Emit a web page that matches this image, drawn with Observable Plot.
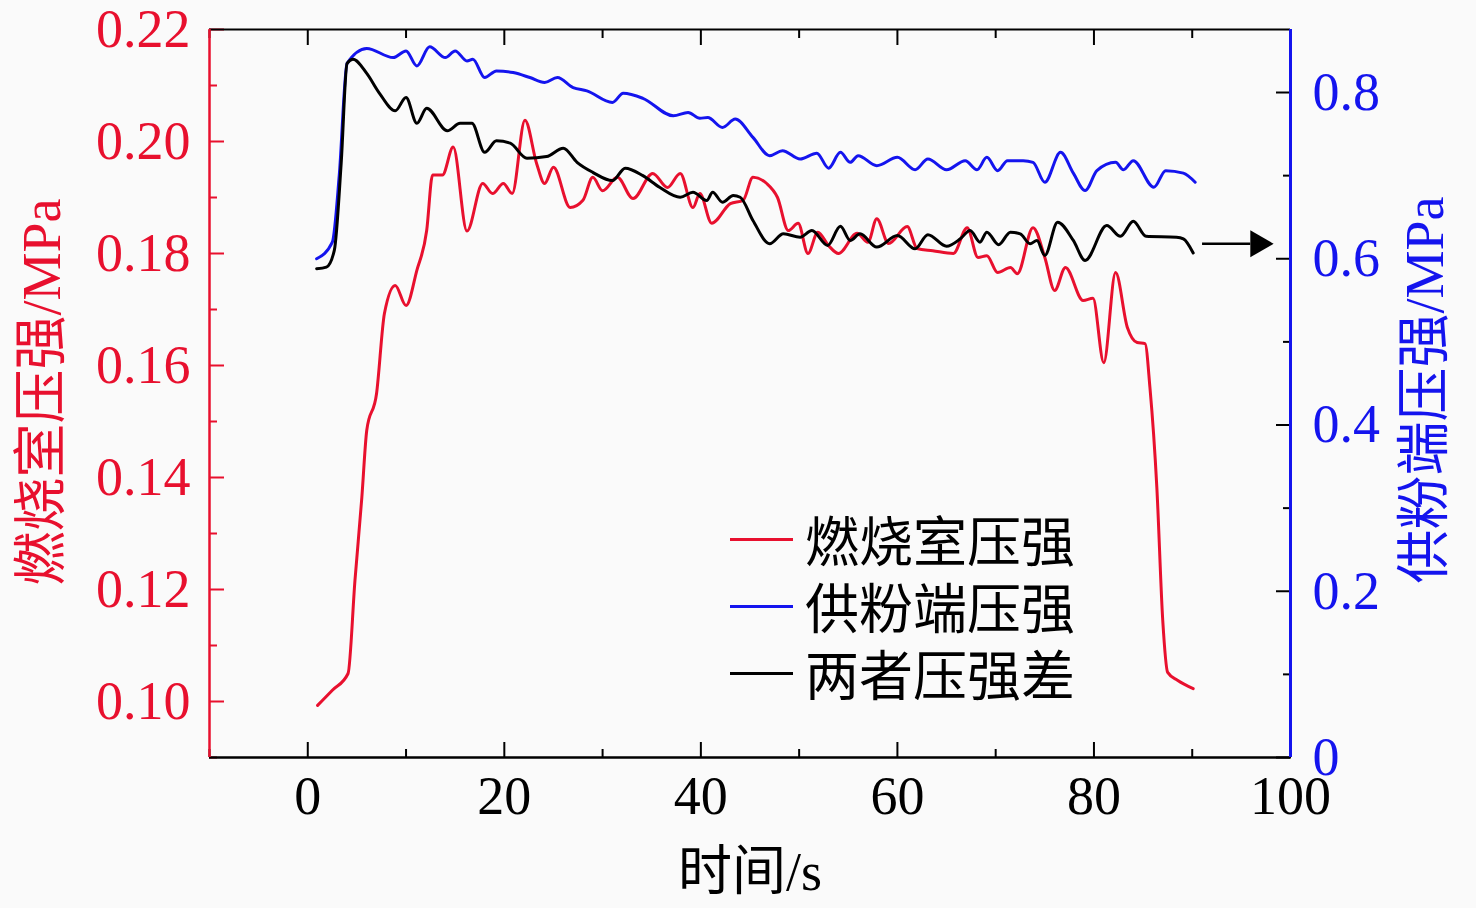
<!DOCTYPE html>
<html><head><meta charset="utf-8">
<script src="https://cdn.jsdelivr.net/npm/d3@7"></script>
<script src="https://cdn.jsdelivr.net/npm/@observablehq/plot@0.6"></script>
<style>
body{margin:0;background:#fafafa;}
#wrap{position:relative;width:1476px;height:908px;overflow:hidden;}
.t{position:absolute;font-family:"Liberation Serif","Noto Sans CJK SC",serif;font-size:54px;line-height:1;white-space:nowrap;}
.row{position:absolute;left:730px;height:54px;display:flex;align-items:center;font-family:"Noto Sans CJK SC",sans-serif;font-size:54px;line-height:1;white-space:nowrap;color:#000;}
.sw{display:inline-block;width:63px;height:3px;margin-right:12px;}
</style></head><body><div id="wrap"></div>
<script>
// ---- data (seconds, MPa) ----
const chamberT = [1.0,2.5,4.1,4.8,5.5,6.0,7.0,7.8,8.9,10.0,11.1,12.1,12.7,13.7,14.8,16.2,17.8,18.8,19.9,20.8,22.1,23.3,24.1,25.0,26.7,28.0,29.0,30.0,31.5,33.1,35.1,36.6,37.9,39.2,39.9,41.1,43.0,44.3,45.3,46.7,47.8,48.9,49.9,50.9,51.9,53.0,54.0,55.9,57.0,57.9,59.1,61.0,62.0,63.6,65.7,67.1,68.2,69.1,70.2,71.5,72.2,73.8,75.0,76.0,77.1,78.9,79.9,81.0,82.2,83.4,84.4,85.2,85.7,86.4,87.0,87.5,88.5,90.1];
const chamberP = [0.0993,0.102,0.105,0.1216,0.1364,0.1484,0.155,0.1693,0.1743,0.1707,0.177,0.1841,0.194,0.194,0.199,0.184,0.1925,0.1907,0.1925,0.1907,0.2038,0.196,0.1925,0.1954,0.1882,0.1895,0.1936,0.1912,0.1936,0.1898,0.1943,0.1918,0.1943,0.1882,0.1907,0.1854,0.1889,0.1895,0.1936,0.1925,0.19,0.1841,0.1854,0.180,0.1838,0.1814,0.180,0.1836,0.182,0.1862,0.1818,0.1848,0.1809,0.1805,0.180,0.1846,0.1793,0.1796,0.1766,0.1775,0.1764,0.1846,0.1793,0.1734,0.1775,0.1716,0.172,0.1605,0.1766,0.1668,0.1641,0.1639,0.156,0.1382,0.1145,0.1052,0.1038,0.1023];

const feedT = [0.9,2.5,3.2,4.0,6.0,8.7,10.0,11.1,12.4,14.0,15.0,16.2,16.8,18.0,19.2,20.9,22.6,24.1,25.4,27.0,28.4,31.0,32.1,34.1,37.2,38.7,39.9,40.7,42.2,43.5,45.3,47.0,48.3,50.1,51.8,53.0,54.2,55.2,56.0,57.9,60.0,61.8,63.1,65.0,66.9,68.1,69.1,70.2,71.2,72.8,73.8,75.0,76.6,77.9,79.1,80.3,82.2,83.0,84.0,86.1,87.3,89.1,90.3];
const feedP = [0.60,0.62,0.70,0.835,0.853,0.842,0.85,0.832,0.855,0.842,0.85,0.838,0.84,0.818,0.826,0.824,0.818,0.812,0.818,0.806,0.802,0.788,0.799,0.793,0.772,0.776,0.769,0.77,0.758,0.768,0.746,0.724,0.73,0.72,0.727,0.709,0.728,0.716,0.724,0.712,0.722,0.707,0.72,0.707,0.718,0.707,0.722,0.706,0.718,0.718,0.716,0.692,0.728,0.703,0.682,0.706,0.716,0.707,0.718,0.686,0.706,0.703,0.692];

const diffT = [0.9,1.9,2.7,3.4,4.0,4.6,6.0,7.3,8.9,10.0,11.1,12.1,14.2,15.5,16.7,18.0,19.2,20.6,22.3,24.3,26.0,27.4,29.0,31.0,32.3,34.1,35.8,37.9,39.2,40.6,41.2,42.2,43.3,44.0,45.3,47.0,48.4,50.1,51.3,52.9,54.2,55.2,56.2,57.9,60.0,61.8,63.1,65.0,66.4,67.4,68.4,69.1,70.3,71.5,72.5,73.5,74.2,75.0,76.3,77.9,79.1,81.3,82.7,84.0,85.3,88.4,89.1,90.1];
const diffP = [0.588,0.59,0.61,0.715,0.835,0.84,0.823,0.799,0.778,0.794,0.763,0.781,0.754,0.763,0.763,0.728,0.742,0.739,0.721,0.723,0.733,0.716,0.704,0.694,0.709,0.70,0.686,0.674,0.68,0.67,0.68,0.668,0.676,0.674,0.646,0.618,0.63,0.626,0.634,0.616,0.639,0.622,0.63,0.614,0.628,0.612,0.629,0.615,0.624,0.634,0.62,0.632,0.617,0.632,0.63,0.618,0.622,0.604,0.644,0.622,0.598,0.64,0.627,0.645,0.627,0.626,0.624,0.607];

const xMajor = [0,20,40,60,80,100];
const xMinor = [-10,10,30,50,70,90];
const leftMajor = [0.10,0.12,0.14,0.16,0.18,0.20,0.22];
const leftMinor = [0.09,0.11,0.13,0.15,0.17,0.19,0.21];
const rightMajor = [0,0.2,0.4,0.6,0.8];
const rightMinor = [0.1,0.3,0.5,0.7];
const arrowShaft = [91.0, 95.9];
const arrowHead = 96.7;
const arrowP = 0.618;
const seriesNames = ["燃烧室压强","供粉端压强","两者压强差"];
const xTitle = "时间/s", leftTitle = "燃烧室压强/MPa", rightTitle = "供粉端压强/MPa";

// ---- chart ----
const red = "#e8102e", blue = "#1414ee";
const yMin = 0.09, yMax = 0.22, rMax = 0.8758;
const toL = v => yMin + v * (yMax - yMin) / rMax;
const toR = y => (y - yMin) * rMax / (yMax - yMin);

const chamber = chamberT.map((t, i) => ({t, p: chamberP[i]}));
const feed = feedT.map((t, i) => ({t, p: feedP[i]}));
const diff = diffT.map((t, i) => ({t, p: diffP[i]}));

const chart = Plot.plot({
  width: 1476, height: 908,
  marginLeft: 209, marginRight: 186, marginTop: 29, marginBottom: 151,
  x: {domain: [-10, 100]},
  y: {domain: [yMin, yMax]},
  style: {background: "transparent", fontFamily: "'Liberation Serif', serif", fontSize: "54px"},
  marks: [
    Plot.line(chamber, {x: "t", y: "p", stroke: red, strokeWidth: 3, curve: "monotone-x"}),
    Plot.line(feed, {x: "t", y: d => toL(d.p), stroke: blue, strokeWidth: 3, curve: "monotone-x"}),
    Plot.line(diff, {x: "t", y: d => toL(d.p), stroke: "#000", strokeWidth: 3, curve: "monotone-x"}),
    Plot.link([0], {x1: arrowShaft[0], x2: arrowShaft[1], y1: toL(arrowP), y2: toL(arrowP), stroke: "#000", strokeWidth: 2.5}),
    Plot.dot([0], {x: arrowHead, y: toL(arrowP), symbol: "triangle", r: 10, rotate: 90, fill: "#000", stroke: null}),

    Plot.axisX({ticks: xMajor, tickSize: 0, tickPadding: 18, tickFormat: d => String(d), fill: "#000", label: null}),
    Plot.axisX({ticks: xMajor, tickSize: -15, text: null, label: null, strokeWidth: 2}),
    Plot.axisX({ticks: xMinor, tickSize: -8, text: null, label: null, strokeWidth: 2}),
    Plot.axisX({anchor: "top", ticks: xMajor, tickSize: -15, text: null, label: null, strokeWidth: 2}),
    Plot.axisX({anchor: "top", ticks: xMinor, tickSize: -8, text: null, label: null, strokeWidth: 2}),

    Plot.axisY({ticks: leftMajor, tickSize: 0, tickPadding: 19, tickFormat: d3.format(".2f"), fill: red, label: null}),
    Plot.axisY({ticks: leftMajor, tickSize: -15, text: null, label: null, stroke: red, strokeWidth: 2}),
    Plot.axisY({ticks: leftMinor, tickSize: -8, text: null, label: null, stroke: red, strokeWidth: 2}),

    Plot.axisY({anchor: "right", ticks: rightMajor.map(toL), tickSize: 0, tickPadding: 22, tickFormat: d => { const v = Math.round(toR(d) * 10) / 10; return v === 0 ? "0" : v.toFixed(1); }, fill: blue, label: null}),
    Plot.axisY({anchor: "right", ticks: rightMajor.map(toL), tickSize: -15, text: null, label: null, stroke: "#000", strokeWidth: 2}),
    Plot.axisY({anchor: "right", ticks: rightMinor.map(toL), tickSize: -8, text: null, label: null, stroke: "#000", strokeWidth: 2}),

    Plot.ruleY([yMin], {stroke: "#000", strokeWidth: 2.5}),
    Plot.ruleY([yMax], {stroke: "#000", strokeWidth: 2}),
    Plot.ruleX([-10], {stroke: red, strokeWidth: 2.5}),
    Plot.ruleX([100], {stroke: blue, strokeWidth: 3})
  ]
});

const wrap = document.getElementById("wrap");
chart.style.position = "absolute";
chart.style.left = "0px";
chart.style.top = "0px";
wrap.appendChild(chart);

function addText(txt, left, top, color, rot) {
  const d = document.createElement("div");
  d.className = "t";
  d.textContent = txt;
  d.style.left = left + "px";
  d.style.top = top + "px";
  d.style.color = color;
  d.style.transform = "translate(-50%,-50%)" + (rot ? " rotate(" + rot + "deg)" : "");
  wrap.appendChild(d);
}
addText(xTitle, 750, 872, "#000", 0);
addText(leftTitle, 42, 392, red, -90);
addText(rightTitle, 1425, 390, blue, -90);

const swColors = [red, blue, "#000"];
const rowTops = [512, 579, 646];
seriesNames.forEach((name, i) => {
  const r = document.createElement("div");
  r.className = "row";
  r.style.top = rowTops[i] + "px";
  const s = document.createElement("span");
  s.className = "sw";
  s.style.background = swColors[i];
  r.appendChild(s);
  r.appendChild(document.createTextNode(name));
  wrap.appendChild(r);
});
</script></body></html>
